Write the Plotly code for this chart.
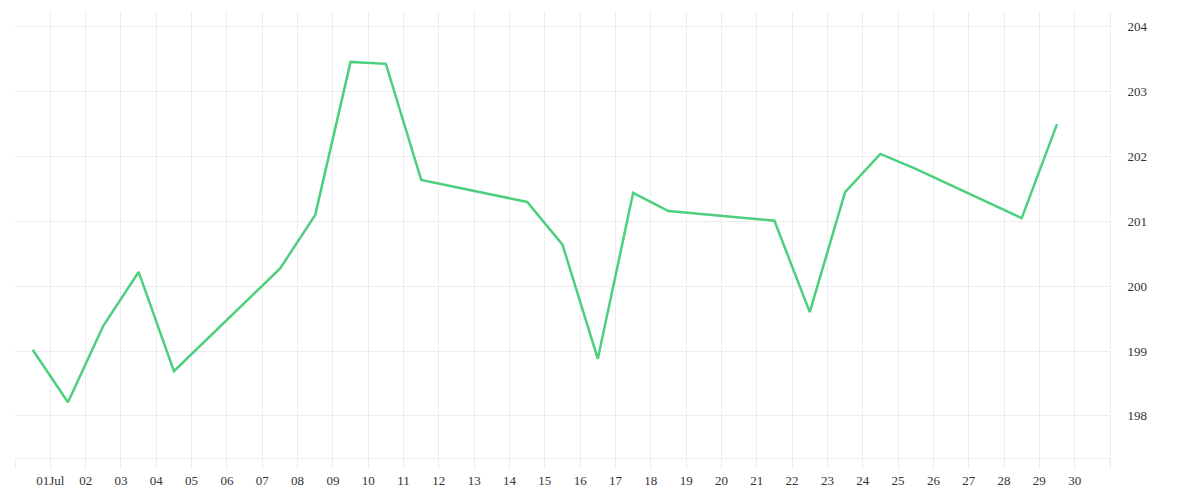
import plotly.graph_objects as go
import pandas as pd

dates = ["2025-06-30", "2025-07-01", "2025-07-02", "2025-07-03", "2025-07-04",
         "2025-07-07", "2025-07-08", "2025-07-09", "2025-07-10", "2025-07-11",
         "2025-07-14", "2025-07-15", "2025-07-16", "2025-07-17", "2025-07-18",
         "2025-07-21", "2025-07-22", "2025-07-23", "2025-07-24", "2025-07-25",
         "2025-07-28", "2025-07-29"]
values = [199.02, 198.21, 199.39, 200.22, 198.69,
          200.27, 201.10, 203.46, 203.43, 201.64,
          201.30, 200.64, 198.88, 201.44, 201.16,
          201.01, 199.60, 201.45, 202.04, 201.81,
          201.05, 202.50]
tick_dates = pd.date_range("2025-06-30", "2025-07-31", freq="D")
tick_labels = [""] + ["01Jul"] + [f"{d:02d}" for d in range(2, 31)] + [""]
y_ticks = [198, 199, 200, 201, 202, 203, 204]

x_points = [pd.Timestamp(d) + pd.Timedelta(hours=12) for d in dates]

grid = "#ededed"
fig = go.Figure()
fig.add_trace(go.Scatter(x=x_points, y=values, mode="lines",
                         line=dict(color="#4cd07d", width=2.5), hoverinfo="x+y"))

fig.update_layout(
    width=1200, height=500,
    margin=dict(l=15, r=90, t=12, b=42, autoexpand=False),
    paper_bgcolor="white", plot_bgcolor="white",
    showlegend=False,
    font=dict(family="Liberation Serif, DejaVu Serif, serif", size=13, color="#333333"),
    xaxis=dict(
        type="date",
        range=[tick_dates[0], tick_dates[-1]],
        tickvals=list(tick_dates), ticktext=tick_labels,
        showgrid=True, gridcolor=grid, gridwidth=1,
        ticks="outside", ticklen=10, tickcolor=grid,
        showline=True, linecolor=grid, linewidth=1,
        zeroline=False, automargin=False,
    ),
    yaxis=dict(
        side="right",
        range=[197.35, 204.23],
        tickvals=y_ticks, ticktext=[str(v) for v in y_ticks],
        showgrid=True, gridcolor=grid, gridwidth=1,
        ticks="outside", ticklen=14, tickcolor="rgba(0,0,0,0)",
        showline=True, linecolor=grid, linewidth=1,
        zeroline=False, automargin=False,
    ),
)
fig.add_shape(type="line", xref="paper", yref="paper", x0=1, x1=1, y0=0, y1=-10/446,
              line=dict(color=grid, width=1))

fig.write_html("out.html", config={"displayModeBar": False},
               post_script="document.body.style.margin='0';document.body.style.overflow='hidden';")
